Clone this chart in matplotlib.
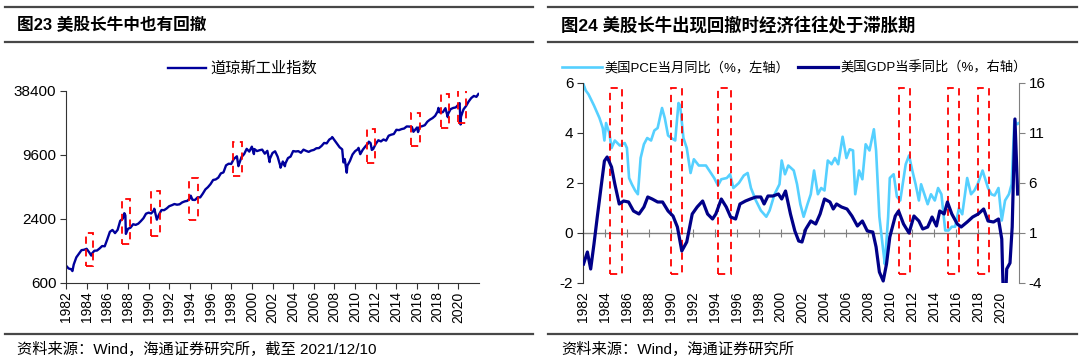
import numpy as np
import matplotlib
matplotlib.use("Agg")
import matplotlib.pyplot as plt
from matplotlib.lines import Line2D
from matplotlib.patches import Rectangle

plt.rcParams["font.family"] = ["Liberation Sans", "Noto Sans CJK SC", "DejaVu Sans"]
plt.rcParams["axes.unicode_minus"] = False

# ---- figure 23: Dow Jones (decimal year, index level) ----
dow_x = [1982.00, 1982.25, 1982.50, 1982.62, 1982.75, 1983.00, 1983.25, 1983.50, 1983.75,
         1984.00, 1984.25, 1984.45, 1984.50, 1984.75, 1985.00, 1985.25, 1985.50, 1985.75,
         1986.00, 1986.25, 1986.50, 1986.75, 1987.00, 1987.25, 1987.50, 1987.65, 1987.75,
         1987.80, 1988.00, 1988.25, 1988.50, 1988.75, 1989.00, 1989.25, 1989.50, 1989.75,
         1990.00, 1990.25, 1990.50, 1990.55, 1990.80, 1991.00, 1991.25, 1991.50, 1991.75,
         1992.00, 1992.25, 1992.50, 1992.75, 1993.00, 1993.25, 1993.50, 1993.75, 1994.00,
         1994.08, 1994.25, 1994.50, 1994.75, 1995.00, 1995.25, 1995.50, 1995.75, 1996.00,
         1996.25, 1996.50, 1996.75, 1997.00, 1997.25, 1997.50, 1997.75, 1998.00, 1998.25,
         1998.55, 1998.70, 1998.75, 1999.00, 1999.25, 1999.50, 1999.75, 2000.00, 2000.20,
         2000.25, 2000.50, 2000.75, 2001.00, 2001.25, 2001.50, 2001.72, 2001.75, 2002.00,
         2002.25, 2002.50, 2002.75, 2002.78, 2003.00, 2003.20, 2003.25, 2003.50, 2003.75,
         2004.00, 2004.25, 2004.50, 2004.75, 2005.00, 2005.25, 2005.50, 2005.75, 2006.00,
         2006.25, 2006.50, 2006.75, 2007.00, 2007.25, 2007.50, 2007.75, 2007.78, 2008.00,
         2008.25, 2008.50, 2008.75, 2008.87, 2009.00, 2009.19, 2009.25, 2009.50, 2009.75,
         2010.00, 2010.25, 2010.33, 2010.50, 2010.75, 2011.00, 2011.25, 2011.33, 2011.50,
         2011.62, 2011.75, 2012.00, 2012.25, 2012.50, 2012.75, 2013.00, 2013.25, 2013.50,
         2013.75, 2014.00, 2014.25, 2014.50, 2014.75, 2015.00, 2015.25, 2015.50, 2015.65,
         2015.75, 2016.00, 2016.10, 2016.25, 2016.50, 2016.75, 2017.00, 2017.25, 2017.50,
         2017.75, 2018.00, 2018.07, 2018.12, 2018.25, 2018.50, 2018.75, 2018.98, 2019.00,
         2019.25, 2019.50, 2019.75, 2020.00, 2020.12, 2020.22, 2020.25, 2020.50, 2020.75,
         2021.00, 2021.25, 2021.50, 2021.75, 2021.94]
dow_y = [875, 822, 809, 777, 896, 1046, 1130, 1222, 1233,
         1259, 1165, 1086, 1132, 1207, 1212, 1267, 1336, 1329,
         1547, 1819, 1893, 1768, 1896, 2305, 2419, 2722, 2596,
         1739, 1939, 1989, 2142, 2113, 2169, 2293, 2440, 2693,
         2753, 2707, 2881, 2999, 2365, 2634, 2914, 2907, 3017,
         3169, 3236, 3319, 3272, 3301, 3436, 3516, 3555, 3754,
         3978, 3636, 3625, 3843, 3834, 4158, 4556, 4789, 5117,
         5588, 5655, 5882, 6448, 6584, 7673, 7945, 7908, 8800,
         9337, 7539, 7843, 9181, 9786, 10971, 10337, 11497, 9796,
         10922, 10448, 10651, 10787, 9879, 10502, 8236, 8848, 10022,
         10404, 9243, 7592, 7286, 8342, 7524, 7992, 8985, 9275,
         10454, 10358, 10435, 10080, 10783, 10504, 10275, 10569, 10718,
         11109, 11150, 11679, 12463, 12354, 13409, 13896, 14165, 13265,
         12263, 11350, 10851, 8176, 8776, 6547, 7609, 8447, 9712,
         10428, 10857, 11205, 9774, 10788, 11578, 12320, 12810, 12414,
         10720, 10913, 12218, 13212, 12880, 13437, 13104, 14579, 14910,
         15130, 16577, 16458, 16827, 17043, 17823, 17776, 17620, 15871,
         16285, 17425, 15766, 17685, 17930, 18308, 19763, 20663, 21350,
         22405, 24719, 26617, 24345, 24103, 24271, 26458, 21792, 23327,
         25929, 26600, 26917, 28538, 29551, 18592, 21917, 25813, 27782,
         30606, 32982, 34503, 33844, 35971]
dow_boxes = [(1983.92, 1984.66, 861, 1775), (1987.38, 1988.21, 1398, 3713),
             (1990.20, 1991.06, 1651, 4446), (1993.95, 1994.78, 2336, 5851),
             (1998.13, 1999.06, 6155, 12690), (2011.20, 2011.97, 8110, 16710),
             (2015.45, 2016.25, 11640, 23990), (2018.31, 2019.07, 17320, 35700),
             (2019.97, 2020.73, 19300, 40370)]
dow_ticks = [600, 2400, 9600, 38400]

# ---- figure 24: PCE yoy (left axis) and GDP yoy (right axis) ----
pce_x = [1982.00, 1982.25, 1982.50, 1983.00, 1983.50, 1983.80, 1983.95, 1984.10, 1984.40,
         1984.60, 1984.90, 1985.35, 1985.80, 1986.00, 1986.20, 1986.45, 1986.75, 1987.00,
         1987.25, 1987.55, 1987.85, 1988.20, 1988.50, 1988.80, 1989.20, 1989.45, 1989.75,
         1990.05, 1990.40, 1990.70, 1990.85, 1991.15, 1991.45, 1991.80, 1992.10, 1992.55,
         1993.20, 1993.65, 1993.95, 1994.30, 1994.60, 1995.10, 1995.40, 1995.70, 1996.20,
         1996.65, 1997.00, 1997.30, 1997.75, 1998.20, 1998.70, 1999.00, 1999.45, 1999.90,
         2000.10, 2000.40, 2000.70, 2001.20, 2001.50, 2001.80, 2002.10, 2002.45, 2002.75,
         2003.05, 2003.40, 2003.70, 2004.00, 2004.30, 2004.65, 2004.95, 2005.25, 2005.65,
         2006.00, 2006.30, 2006.60, 2006.80, 2007.15, 2007.45, 2007.75, 2008.10, 2008.50,
         2008.70, 2009.00, 2009.35, 2009.50, 2009.80, 2009.95, 2010.30, 2010.60, 2010.90,
         2011.40, 2011.70, 2012.00, 2012.30, 2012.60, 2012.80, 2013.10, 2013.40, 2013.70,
         2014.05, 2014.35, 2014.65, 2015.00, 2015.30, 2015.60, 2015.90, 2016.25, 2016.55,
         2017.00, 2017.35, 2017.65, 2017.95, 2018.40, 2018.90, 2019.20, 2019.50, 2019.85,
         2020.15, 2020.45, 2020.80, 2021.05, 2021.30, 2021.55, 2021.72]
pce_y = [6.0, 5.7, 5.55, 5.1, 4.6, 4.2, 3.7, 4.4, 4.0,
         3.4, 3.7, 3.5, 3.6, 3.4, 2.2, 1.95, 1.7, 1.55,
         3.0, 3.55, 3.8, 3.7, 4.1, 4.2, 5.0, 4.6, 3.9,
         3.8, 3.7, 5.2, 5.1, 3.8, 3.4, 2.4, 2.95, 2.7,
         2.7, 2.4, 2.2, 1.9, 2.15, 2.2, 2.35, 1.8, 2.0,
         2.3, 2.4, 1.8, 1.3, 0.9, 0.65, 0.9, 1.55, 1.95,
         2.9, 2.35, 2.7, 2.5, 1.95, 1.15, 0.65, 1.15, 1.55,
         2.5, 1.55, 1.8, 1.7, 2.9, 2.75, 3.0, 2.75, 3.85,
         3.0, 3.35, 3.3, 1.55, 2.5, 2.15, 3.55, 3.3, 4.15,
         3.3, 0.65, -0.7, -1.25, 0.65, 2.2, 2.35, 1.45, 1.3,
         2.75, 3.1, 2.5, 1.95, 1.3, 1.95, 1.55, 1.15, 1.55,
         1.3, 1.8, 1.55, 0.1, 0.1, 0.25, 0.25, 1.0, 0.75,
         2.2, 1.55, 1.7, 1.95, 2.5, 1.8, 1.55, 1.5, 1.8,
         0.5, 1.3, 1.55, 1.95, 4.5, 4.35, 4.4]
gdp_x = [1982.05, 1982.40, 1982.70, 1983.00, 1983.30, 1983.60, 1983.95, 1984.20, 1984.60,
         1984.90, 1985.30, 1985.70, 1986.15, 1986.60, 1987.10, 1987.55, 1987.90, 1988.30,
         1988.80, 1989.25, 1989.75, 1990.20, 1990.60, 1991.00, 1991.45, 1991.95, 1992.40,
         1992.90, 1993.35, 1993.80, 1994.10, 1994.60, 1995.05, 1995.45, 1995.90, 1996.30,
         1996.80, 1997.25, 1997.75, 1998.20, 1998.50, 1998.85, 1999.30, 1999.80, 2000.10,
         2000.45, 2000.90, 2001.30, 2001.65, 2001.95, 2002.30, 2002.75, 2003.20, 2003.60,
         2004.00, 2004.50, 2004.80, 2005.10, 2005.55, 2006.05, 2006.50, 2007.00, 2007.45,
         2007.90, 2008.40, 2008.70, 2009.00, 2009.35, 2009.65, 2009.95, 2010.45, 2010.75,
         2011.20, 2011.70, 2012.15, 2012.60, 2012.95, 2013.40, 2013.80, 2014.20, 2014.50,
         2014.90, 2015.20, 2015.60, 2016.10, 2016.45, 2017.00, 2017.50, 2018.00, 2018.50,
         2018.90, 2019.40, 2019.85, 2020.15, 2020.38, 2020.60, 2020.90, 2021.10, 2021.35,
         2021.60]
gdp_y = [-2.1, -0.9, -2.6, -0.1, 2.6, 5.2, 8.2, 8.6, 7.6,
         5.9, 3.9, 4.2, 4.1, 3.2, 2.9, 3.6, 4.6, 4.4,
         4.1, 4.1, 3.2, 2.7, 1.6, -0.8, 0.1, 2.9, 3.6,
         4.2, 2.9, 2.4, 2.9, 4.4, 3.6, 2.6, 2.4, 3.9,
         4.2, 4.4, 4.6, 4.6, 3.9, 4.7, 4.7, 4.9, 4.4,
         5.2, 2.9, 1.2, 0.2, 0.1, 1.4, 2.2, 1.9, 2.9,
         4.4, 4.1, 3.4, 3.9, 3.6, 3.4, 2.7, 1.7, 2.2,
         1.2, 1.1, -0.4, -2.9, -3.8, -2.1, 0.6, 2.7, 3.2,
         1.9, 1.0, 2.7, 2.2, 1.4, 1.6, 2.6, 1.7, 3.2,
         2.9, 4.1, 2.9, 1.9, 1.6, 2.1, 2.6, 2.9, 3.4,
         2.2, 2.1, 2.4, 0.4, -9.1, -2.6, -2.0, 1.6, 12.4,
         4.9]
macro_boxes = [(1984.42, 1985.57), (1990.00, 1991.00), (1994.26, 1995.48),
               (2010.76, 2011.77), (2015.24, 2016.22), (2018.00, 2019.00)]
box_lo, box_hi = -1.62, 5.8
pce_ticks = [-2, 0, 2, 4, 6]
gdp_ticks = [-4, 1, 6, 11, 16]

year_ticks = list(range(1982, 2021, 2))

DOW_BLUE = "#00009c"
PCE_BLUE = "#55d0ff"
GDP_NAVY = "#000088"
RED = "#ff0000"
BAR = "#474747"

W, H = 1080, 360
fig = plt.figure(figsize=(W / 100, H / 100), dpi=100)


def fx(px):
    return px / W


def fy(py):
    return 1 - py / H


def add_box(ax, x0, x1, y0, y1):
    ax.add_patch(Rectangle((x0, y0), x1 - x0, y1 - y0, fill=False, edgecolor=RED,
                           linewidth=1.3, linestyle=(0, (4, 3)), zorder=5))


# title bars and source lines
for x0, x1 in [(5, 533), (548, 1077)]:
    for yy in (7, 42, 334):
        fig.add_artist(Line2D([fx(x0), fx(x1)], [fy(yy), fy(yy)], color=BAR, lw=1.6))

fig.text(fx(17), fy(25), "图23 美股长牛中也有回撤", fontsize=12, fontweight="bold", va="center")
fig.text(fx(561), fy(25), "图24 美股长牛出现回撤时经济往往处于滞胀期", fontsize=12.5,
         fontweight="bold", va="center")
fig.text(fx(17), fy(349), "资料来源：Wind，海通证券研究所，截至 2021/12/10", fontsize=11, va="center")
fig.text(fx(561), fy(349), "资料来源：Wind，海通证券研究所", fontsize=11, va="center")

# ---- left chart ----
ax1 = fig.add_axes([fx(66), fy(283), fx(479 - 66), (283 - 91) / H])
ax1.plot(dow_x, dow_y, color=DOW_BLUE, lw=1.7, label="道琼斯工业指数")
for x0, x1, y0, y1 in dow_boxes:
    add_box(ax1, x0, x1, y0, y1)
ax1.set_yscale("log")
ax1.set_ylim(600, 38400)
ax1.set_yticks(dow_ticks)
ax1.set_yticklabels([str(t) for t in dow_ticks])
ax1.yaxis.set_minor_locator(matplotlib.ticker.NullLocator())
ax1.set_xlim(1982, 2022)
ax1.set_xticks(year_ticks)
ax1.set_xticklabels([str(y) for y in year_ticks], rotation=90)
for s in ("top", "right"):
    ax1.spines[s].set_visible(False)
for s in ("left", "bottom"):
    ax1.spines[s].set_color("#333333")
ax1.tick_params(axis="y", labelsize=11, length=4, pad=3, color="#333333")
ax1.tick_params(axis="x", labelsize=10, length=4, pad=2, color="#333333")
fig.legend(handles=ax1.get_lines(), loc="center left", bbox_to_anchor=(fx(168), fy(69)),
           frameon=False, fontsize=11, handlelength=2.5, handletextpad=0.25,
           borderaxespad=0, borderpad=0)

# ---- right chart ----
ax2 = fig.add_axes([fx(583), fy(283), fx(1019 - 583), (283 - 83) / H])
ax2.plot(pce_x, pce_y, color=PCE_BLUE, lw=1.9, label="美国PCE当月同比（%，左轴）")
for x0, x1 in macro_boxes:
    add_box(ax2, x0, x1, box_lo, box_hi)
ax2.set_ylim(-2, 6)
ax2.set_yticks(pce_ticks)
ax2.set_xlim(1982, 2021.72)
ax2.set_xticks(year_ticks)
ax2.set_xticklabels([str(y) for y in year_ticks], rotation=90)
ax2.spines["top"].set_visible(False)
ax2.spines["bottom"].set_visible(False)
ax2.spines["right"].set_visible(False)
ax2.spines["left"].set_color("#333333")
ax2.tick_params(axis="y", labelsize=11, length=4, pad=3, color="#333333")
ax2.tick_params(axis="x", labelsize=10, length=0, pad=6)

zero = ax2.secondary_xaxis(0.25)
zero.set_xticks(year_ticks)
zero.tick_params(labelbottom=False, direction="inout", length=6, color="#808080")
zero.spines["bottom"].set_color("#808080")
zero.spines["bottom"].set_linewidth(1.0)

ax3 = ax2.twinx()
ax3.plot(gdp_x, gdp_y, color=GDP_NAVY, lw=2.3, label="美国GDP当季同比（%，右轴）")
ax3.set_ylim(-4, 16)
ax3.set_yticks(gdp_ticks)
for s in ("top", "bottom", "left"):
    ax3.spines[s].set_visible(False)
ax3.spines["right"].set_color("#808080")
ax3.tick_params(axis="y", labelsize=11, length=4, pad=3, color="#808080")

fig.legend(handles=ax2.get_lines() + ax3.get_lines(), loc="center left",
           bbox_to_anchor=(fx(562), fy(68)), ncol=2, frameon=False, fontsize=9.5,
           handlelength=3.0, handletextpad=0.2, columnspacing=0.7,
           borderaxespad=0, borderpad=0)

fig.savefig("out.png", dpi=100)
